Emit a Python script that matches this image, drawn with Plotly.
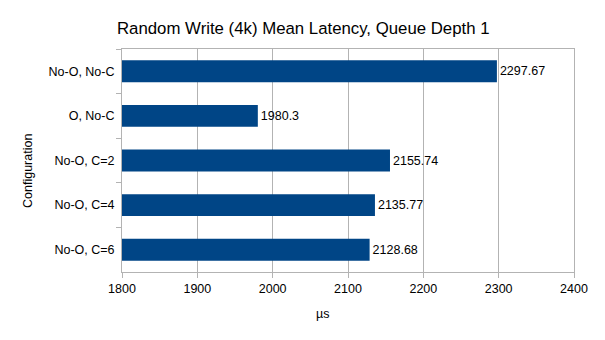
import plotly.graph_objects as go

categories = ["No-O, No-C", "O, No-C", "No-O, C=2", "No-O, C=4", "No-O, C=6"]
latency_us = [2297.67, 1980.3, 2155.74, 2135.77, 2128.68]
x_ticks = [1800, 1900, 2000, 2100, 2200, 2300, 2400]

W, H = 605, 340
L, R, T, B = 122, 31, 49, 68

FONT = "Liberation Sans, Arial, sans-serif"
GRID = "#b3b3b3"

fig = go.Figure(
    go.Bar(
        y=categories,
        x=latency_us,
        orientation="h",
        marker=dict(color="#004586", line=dict(width=0)),
        width=0.49,
        text=[f"{v:g}" for v in latency_us],
        textposition="outside",
        textfont=dict(family=FONT, size=12.5, color="#000000"),
        cliponaxis=False,
    )
)

fig.update_layout(
    width=W,
    height=H,
    margin=dict(l=L, r=R, t=T, b=B),
    paper_bgcolor="white",
    plot_bgcolor="white",
    showlegend=False,
    font=dict(family=FONT, size=12, color="#000000"),
    uniformtext=dict(minsize=8, mode="show"),
)

fig.update_xaxes(
    range=[1800, 2400],
    tickvals=x_ticks,
    ticktext=[str(t) for t in x_ticks],
    showgrid=True,
    gridcolor=GRID,
    gridwidth=1,
    showline=True,
    linecolor=GRID,
    linewidth=1,
    mirror=True,
    ticks="outside",
    ticklen=5,
    tickcolor=GRID,
    tickfont=dict(family=FONT, size=12.5, color="#000000"),
    zeroline=False,
)

fig.update_yaxes(
    type="category",
    categoryorder="array",
    categoryarray=categories,
    autorange="reversed",
    tickson="boundaries",
    ticks="outside",
    ticklen=5,
    tickcolor=GRID,
    showgrid=False,
    showline=True,
    linecolor=GRID,
    linewidth=1,
    mirror=True,
    tickfont=dict(family=FONT, size=12.5, color="#000000"),
    ticklabelstandoff=4,
)

pw = W - L - R
ph = H - T - B

def px_to_paper_x(px):
    return (px - L) / pw

def px_to_paper_y(py):
    return (H - B - py) / ph

fig.add_annotation(
    text="Random Write (4k) Mean Latency, Queue Depth 1",
    x=px_to_paper_x(303), y=px_to_paper_y(29), xref="paper", yref="paper",
    showarrow=False, xanchor="center", yanchor="middle",
    font=dict(family=FONT, size=16.8, color="#000000"),
)
fig.add_annotation(
    text="µs",
    x=px_to_paper_x(322), y=px_to_paper_y(314), xref="paper", yref="paper",
    showarrow=False, xanchor="center", yanchor="middle",
    font=dict(family=FONT, size=12.5, color="#000000"),
)
fig.add_annotation(
    text="Configuration",
    x=px_to_paper_x(28), y=px_to_paper_y(171), xref="paper", yref="paper",
    showarrow=False, xanchor="center", yanchor="middle", textangle=-90,
    font=dict(family=FONT, size=12.5, color="#000000"),
)

fig.write_html("out.html")
